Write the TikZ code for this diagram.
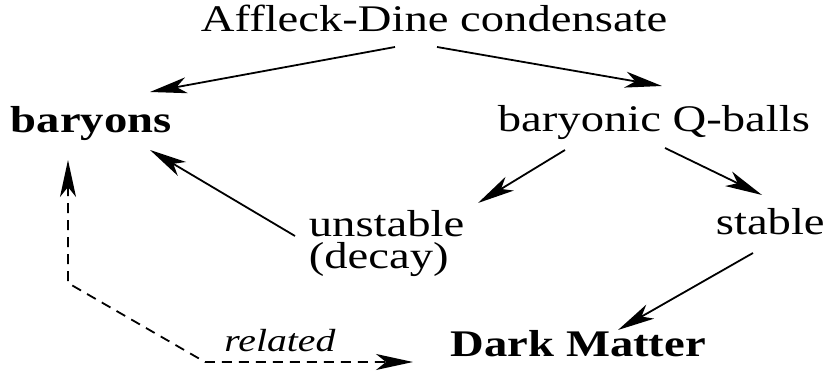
\documentclass[tikz,border=0pt]{standalone}
\usepackage{fontspec}
\setmainfont[FakeStretch=1.24]{Liberation Serif}
\usetikzlibrary{calc, arrows.meta}

\begin{document}
\begin{tikzpicture}[
    x=0.5pt, y=-0.5pt,
    >={Stealth[length=18.5pt, width=8pt, inset=5pt]},
    line width=0.9pt,
    lbl/.style={inner sep=0pt, anchor=base west, font=\fontsize{18.8}{16.2}\selectfont},
    hint/.style={inner sep=4.5pt, above, font=\fontsize{16}{19}\selectfont\itshape}
]
    \useasboundingbox (0,0) rectangle (828,383);

    % Labels
    \node[lbl] (adc) at (200,32) {Affleck-Dine condensate};
    \node[lbl] (bar) at (10,133) {\bfseries baryons};
    \node[lbl] (qb) at (497,132) {baryonic Q-balls};
    \node[lbl, align=left] (uns) at (308,269) {unstable\\(decay)};
    \node[lbl] (stb) at (715,235) {stable};
    \node[lbl] (dm) at (450,357) {\bfseries Dark Matter};

    % Condensate splits
    \draw[->] ($(adc.base west)+(195,15)$) -- ($(bar.base west)+(140,-41)$);
    \draw[->] ($(adc.base west)+(237,15)$) -- ($(qb.base west)+(165,-46)$);

    % Q-balls
    \draw[->] ($(qb.base west)+(68,18)$) -- ($(uns.base west)+(170,-66)$);
    \draw[->] ($(qb.base west)+(168,16)$) -- ($(stb.base west)+(47,-40)$);
    \draw[->] ($(uns.base west)+(-13,-33)$) -- ($(bar.base west)+(140,17)$);
    \draw[->] ($(stb.base west)+(38,18)$) -- ($(dm.base west)+(168,-27)$);

    % Relation baryons / dark matter
    \draw[<->, dash pattern=on 5pt off 3.5pt] ($(bar.base west)+(58,27)$) -- ++(0,123) -- ++(137,79)
        -- node[hint, pos=0.36] (rel) {related} ($(dm.base west)+(-37,5)$);

\end{tikzpicture}
\end{document}
